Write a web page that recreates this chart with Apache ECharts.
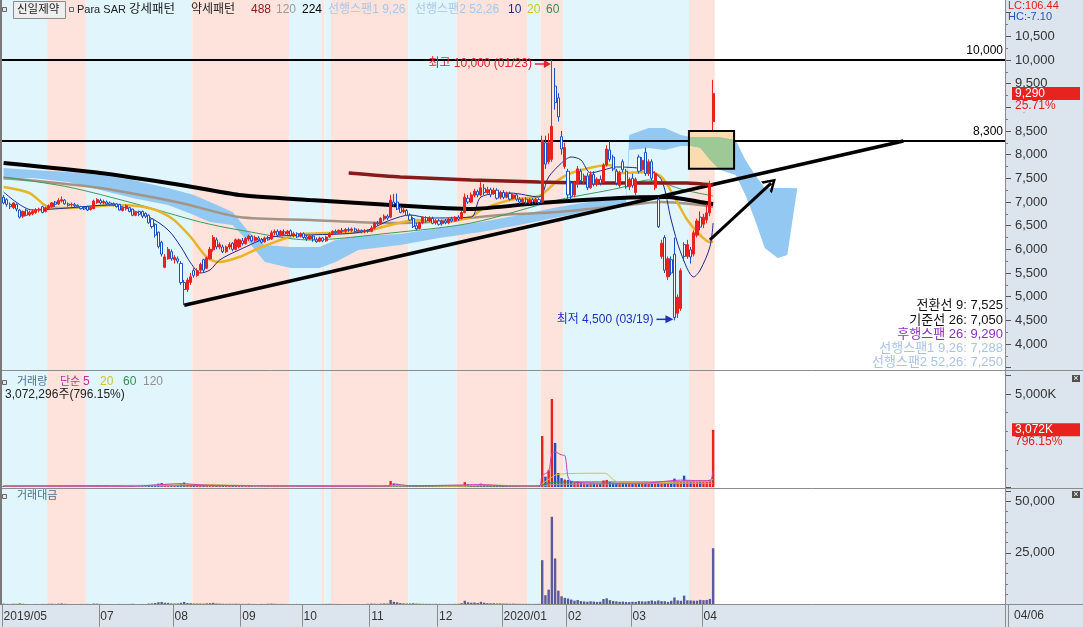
<!DOCTYPE html>
<html><head><meta charset="utf-8">
<script src="https://cdn.jsdelivr.net/npm/echarts/dist/echarts.min.js"></script>
<style>html,body{margin:0;padding:0;background:#fff;overflow:hidden}#c{width:1083px;height:627px}</style>
</head><body><div id="c"></div>
<script>
// ---------------- DATA ----------------
const categoryCount = 311;
const monthStarts = [0, 30, 53, 74, 93, 114, 135, 155, 175, 195, 217];
const monthLabels = ['2019/05', '07', '08', '09', '10', '11', '12', '2020/01', '02', '03', '04'];
const lastDateLabel = '04/06';

const opens = [7100,7050,6950,6880,6950,6830,6700,6830,6730,6750, 6780,6830,6900,6800,6860,6900,7000,6960,7020,7040,
 6960,6940,6950,6930,6900,6880,6900,6840,6860,6990, 7030,6980,7000,6980,6970,6960,6950,6820,6860,6880,
 6850,6720,6800,6800,6760,6720,6640,6530,6360,6150, 5620,5800,5950,5780,5800,5700,5300,5150,5300,5550,
 5450,5560,5780,5600,5800,5990,6200,6050,6050,5950, 6050,6130,6000,6050,6180,6120,6220,6270,6190,6240,
 6200,6160,6240,6220,6350,6380,6300,6370,6330,6390, 6300,6330,6270,6330,6260,6220,6280,6200,6170,6240,
 6180,6260,6330,6380,6350,6400,6380,6420,6400,6430, 6380,6400,6370,6400,6380,6450,6560,6540,6640,6700,
 6680,7000,7000,6880,6800,6820,6720,6650,6500,6440, 6560,6670,6600,6650,6560,6600,6540,6600,6560,6640,
 6600,6680,6650,6780,7080,7000,7140,7220,7150,7290, 7200,7260,7180,7250,7100,7200,7100,7180,7080,7150,
 7060,7000,7060,6990,7050,7000,7050,7000,8250,7850, 7900,9450,9200,8380,7750,7650,7400,7150,7380,7650,
 7450,7550,7300,7580,7380,7480,7420,7780,8100,7950, 7650,7350,7850,7650,7320,7500,7200,7950,7680,8050,
 7600,7850,7300,7050,5850,6250,5420,5780,5900,4650, 4750,6100,5850,5990,5900,6300,6680,6530,6620,6770,8700];
const closes = [6980,6950,6900,6980,6850,6680,6800,6720,6780,6800, 6830,6850,6780,6880,6920,6980,6950,7030,7050,6960,
 6930,6950,6920,6900,6860,6850,6830,6880,7020,7050, 6980,7010,6960,6950,6940,6900,6830,6880,6920,6800,
 6720,6780,6740,6700,6700,6560,6480,6300,6060,5900, 5840,6000,5800,5830,5750,5300,5150,5350,5420,5450,
 5550,5680,5560,5820,6000,6250,6050,6100,5950,6050, 6100,6000,6200,6200,6120,6230,6280,6180,6250,6200,
 6150,6240,6200,6350,6380,6300,6380,6320,6380,6300, 6330,6260,6330,6250,6220,6280,6200,6160,6240,6180,
 6260,6330,6380,6350,6400,6380,6420,6400,6430,6380, 6400,6370,6400,6380,6450,6560,6540,6650,6700,6660,
 7040,6950,6850,6780,6830,6720,6620,6480,6430,6560, 6680,6600,6660,6550,6600,6530,6600,6560,6640,6600,
 6680,6640,6780,7100,7000,7150,7230,7150,7300,7200, 7260,7150,7250,7080,7200,7100,7180,7060,7150,7060,
 7000,7060,6980,7050,7000,7060,6990,8300,7800,8250, 8600,9100,8800,8120,8150,7150,7120,7400,7700,7450,
 7550,7300,7580,7380,7480,7400,7780,8120,7900,7700, 7400,7620,7680,7320,7480,7350,7480,7650,7880,7600,
 7850,7500,7600,6480,6130,5560,5800,5500,4560,4990, 5550,5850,6100,5840,6350,6600,6470,6680,6770,7390,9290];
const lows = [6950,6900,6850,6850,6800,6650,6660,6700,6700,6720, 6750,6780,6760,6780,6830,6880,6900,6940,6990,6940,
 6900,6900,6890,6870,6840,6830,6810,6820,6850,6960, 6950,6950,6940,6920,6910,6880,6820,6800,6820,6780,
 6700,6700,6700,6660,6660,6540,6440,6250,6020,5850, 5600,5780,5760,5700,5700,5250,4820,5100,5250,5400,
 5420,5500,5520,5580,5780,5950,6000,6000,5920,5920, 6000,5960,5980,6020,6080,6100,6180,6150,6160,6170,
 6120,6140,6180,6200,6300,6280,6280,6290,6300,6270, 6250,6240,6250,6220,6180,6200,6160,6140,6150,6150,
 6160,6240,6300,6320,6330,6340,6350,6370,6370,6350, 6360,6340,6340,6350,6360,6420,6500,6520,6600,6620,
 6660,6900,6830,6760,6760,6700,6600,6450,6400,6420, 6530,6560,6570,6530,6520,6500,6500,6530,6530,6570,
 6580,6600,6630,6760,6960,6980,7100,7100,7120,7150, 7150,7100,7150,7050,7060,7060,7080,7030,7050,7020,
 6960,6980,6950,6960,6960,6970,6950,6980,7700,7800, 7850,8950,8700,8000,7700,7050,7050,7100,7300,7400,
 7380,7250,7280,7330,7330,7350,7400,7750,7850,7650, 7350,7300,7620,7280,7250,7300,7150,7600,7650,7550,
 7550,7450,7250,6450,5800,5500,5350,5450,4500,4550, 4700,5750,5800,5700,5850,6250,6400,6450,6550,6700,8300];
const highs = [7150,7080,6990,7000,6970,6850,6820,6860,6820,6850, 6870,6880,6920,6900,6950,7000,7020,7080,7120,7060,
 6990,6990,6980,6950,6920,6900,6920,6900,7050,7080, 7070,7050,7030,7010,6990,6980,6960,6900,6950,6900,
 6860,6800,6820,6820,6780,6740,6660,6550,6380,6180, 5900,6050,6000,5880,5850,5750,5350,5400,5500,5600,
 5600,5720,5800,5850,6050,6300,6250,6150,6100,6080, 6150,6150,6230,6230,6240,6260,6310,6300,6290,6280,
 6240,6270,6280,6400,6420,6420,6410,6420,6410,6420, 6370,6360,6360,6360,6300,6300,6300,6250,6270,6260,
 6290,6360,6400,6420,6420,6450,6450,6460,6460,6460, 6440,6420,6430,6420,6500,6580,6600,6680,6740,6740,
 7150,7170,7180,6920,6880,6850,6760,6680,6560,6580, 6700,6700,6700,6690,6640,6640,6630,6640,6670,6690,
 6700,6720,6820,7180,7150,7200,7280,7260,7420,7380, 7320,7300,7300,7290,7240,7250,7220,7220,7180,7180,
 7100,7090,7100,7080,7080,7090,7080,8400,8400,8450, 10000,9830,9300,8500,8250,7700,7450,7450,7760,7700,
 7600,7620,7650,7650,7520,7560,7820,8200,8280,8000, 7700,7660,7900,7700,7520,7600,7520,8000,7950,8150,
 7900,7900,7650,7100,6200,6300,5850,5850,6250,5050, 5600,6150,6200,6050,6400,6650,6800,6750,6950,7450,9580];

// volume (thousand shares)
const volumes = [60,45,40,55,50,80,55,40,35,38,42,36,45,40,50,55,42,60,70,48,40,38,35,33,40,38,45,36,65,58,42,38,35,33,30,36,45,38,40,42,50,35,33,40,38,
 70,85,120,180,210,150,130,90,80,95,160,240,140,120,90,85,80,75,95,110,130,80,70,60,55,60,58,65,
 55,50,48,60,45,42,40,50,45,60,70,55,50,48,45,42,40,38,45,42,40,38,36,35,40,38,45,50,55,48,45,42,40,38,36,40,38,36,35,40,55,70,60,50,65,80,70,
 320,180,150,100,80,70,75,90,70,60,55,50,48,45,50,45,42,40,45,42,48,55,90,260,150,120,130,100,180,120,90,80,85,70,75,65,60,55,60,50,48,45,50,42,40,45,50,
 2740,560,900,4730,2370,750,480,400,380,330,250,300,220,200,180,210,190,170,180,350,380,260,220,200,180,190,170,160,180,170,220,200,190,230,260,220,280,240,250,230,260,450,300,280,610,350,330,300,280,350,320,330,386,3072];
// trading value (million won)
const tradeValues = [420,310,280,380,345,540,375,270,235,258,287,247,305,275,345,382,292,420,492,334,278,264,243,229,275,262,310,247,455,406,293,265,243,229,208,249,308,262,274,286,340,238,224,270,258,
 465,555,760,1095,1240,875,780,525,465,548,850,1250,740,650,490,470,455,425,550,660,810,485,425,357,333,363,350,403,
 340,310,300,375,280,262,248,310,280,380,445,350,320,306,285,268,253,240,283,264,250,238,225,218,250,238,283,318,350,306,288,268,256,243,230,256,243,230,224,256,355,460,395,332,432,535,470,
 2200,1280,1050,690,550,475,500,590,455,390,362,335,320,300,330,298,276,262,296,277,318,365,610,1820,1060,850,930,720,1300,870,650,580,615,505,540,468,430,395,430,358,340,320,353,296,281,316,350,
 21500,4500,7200,42500,22300,6700,4000,3200,2900,2400,1850,2200,1650,1480,1330,1560,1410,1260,1330,2650,3000,2100,1720,1520,1320,1410,1260,1180,1330,1260,1650,1520,1430,1680,1950,1600,1950,1650,1600,1250,1800,3400,2000,1800,4300,2050,1980,1850,1850,2250,2100,2200,2700,27300];

// price moving averages, read at sample days: [dayIndex, value]
const ma10 = [[0,7212],[9,6831],[20,6874],[33,6937],[45,6683],[51,6409],[55,6050],[58,5712],[61,5500],[64,5564],[67,5775],[73,5986],[83,6261],[95,6303],[111,6367],[120,6620],[126,6726],[132,6662],[145,6683],[148,7106],[157,7190],[166,7106],[169,7528],[173,7824],[176,7951],[179,7888],[182,7613],[186,7676],[190,7740],[200,7676],[204,7465],[207,6620],[210,5923],[214,5416],[216,5564],[219,6050],[220,6557]];
const ma20 = [[0,7317],[8,7190],[14,6895],[20,6874],[36,6937],[45,6874],[52,6662],[58,6261],[63,5838],[67,5733],[73,5838],[80,6050],[91,6303],[101,6345],[111,6367],[120,6514],[128,6620],[136,6578],[145,6683],[148,6831],[157,7043],[166,7127],[172,7465],[176,7613],[183,7740],[188,7782],[191,7613],[200,7634],[204,7528],[208,7106],[212,6620],[216,6303],[219,6155],[220,6160]];
const ma60 = [[0,7528],[20,7317],[40,6979],[61,6578],[73,6409],[95,6198],[120,6345],[145,6557],[172,7043],[191,7296],[200,7465],[211,7254],[220,7127]];
const ma120 = [[0,7507],[30,7296],[55,6979],[73,6683],[95,6620],[120,6557],[132,6578],[154,6726],[172,6789],[191,6916],[204,7000],[216,6937],[220,6895]];
const ma224 = [[0,7824],[30,7613],[55,7359],[73,7148],[95,7043],[120,6937],[145,6852],[166,6979],[191,7085],[206,7106],[216,7000],[220,6958]];
const ma488 = [[107,7613],[123,7528],[145,7465],[166,7423],[185,7402],[212,7402],[220,7359]];

// ichimoku cloud envelope (leading spans), read at sample days
const cloudIdx = [0,9,20,30,40,51,59,64,71,76,81,89,98,103,110,123,135,148,160,172,185,193,194,200,205,210,213,216,219,222,227,230,233,236,240,243,246];
const cloudTop = [7718,7676,7634,7571,7465,7296,7148,7000,6789,6367,6092,6050,6050,6198,6282,6324,6451,6578,6726,6895,7043,7106,8416,8563,8563,8416,8373,8373,8373,8373,8310,7888,7571,7296,7296,7296,7288];
const cloudBot = [7465,7507,7423,7254,7085,6937,6726,6578,6514,6155,5733,5606,5606,5733,5986,6092,6240,6367,6514,6683,6831,6979,8099,8141,8099,8183,8183,8141,7888,7680,7571,7148,6620,6029,5817,5881,7250];

// volume moving averages [dayIndex, thousand shares]
const vma5 = [[0,50],[40,40],[47,110],[55,180],[62,110],[70,80],[100,40],[119,55],[121,160],[126,70],[143,110],[148,130],[155,70],[166,50],[167,600],[169,850],[170,1800],[171,1880],[173,1720],[174,1700],[175,540],[176,300],[180,230],[190,200],[200,220],[210,370],[216,340],[219,340],[220,850]];
const vma20 = [[0,55],[30,45],[50,100],[60,130],[75,80],[100,42],[120,60],[130,75],[141,45],[150,110],[160,60],[166,55],[167,190],[170,520],[171,640],[175,720],[186,740],[187,720],[189,400],[191,260],[200,230],[210,270],[219,300],[220,440]];
const vma60 = [[0,60],[60,90],[90,70],[120,60],[166,60],[167,100],[171,260],[180,275],[200,270],[220,330]];
const vma120 = [[0,60],[166,60],[171,140],[220,200]];

// Para SAR pattern bands [startDay, endDay(excl), 0=strong(cyan) 1=weak(pink)]
const bandRuns = [[0,14,0],[14,26,1],[26,59,0],[59,89,1],[89,99,0],[99,100,1],[100,102,0],[102,126,1],[126,141,0],[141,163,1],[163,167,0],[167,174,1],[174,213,0],[213,221,1]];

// drawn annotations
const highLine = 10000, resistLine = 8300;
const trendStart = [56, 4820], trendEnd = [279, 8290];
const arrowStart = [219, 6200], arrowEnd = [238, 7400];
const boxRange = [213, 227, 8500, 7700];
const highPoint = [170, 10000], lowPoint = [208, 4500];

// ---------------- CHART ----------------
const FONT = "'Liberation Sans','Noto Sans CJK KR',sans-serif";
const cats = Array.from({length: categoryCount}, (_, i) => String(i));
const candleData = opens.map((o, i) => [o, closes[i], lows[i], highs[i]]);
const UP = '#e8231f', DN = '#1d4fc4';
const volData = volumes.map((v, i) => ({value: v, itemStyle: {color: closes[i] >= opens[i] ? UP : DN}}));
const CLOUD = '#93c8f2';

const chart = echarts.init(document.getElementById('c'), null, {renderer: 'canvas'});

function xAx(g, show) {
  const a = {gridIndex: g, type: 'category', data: cats, boundaryGap: true, show: !!show,
    axisLine: {show: false}, splitLine: {show: false}};
  if (show) {
    a.axisTick = {show: true, interval: (idx) => monthStarts.indexOf(idx) >= 0, length: 22,
      lineStyle: {color: '#8c8c8c'}};
    a.axisLabel = {show: true, interval: (idx) => monthStarts.indexOf(idx) >= 0,
      formatter: (v) => { const k = monthStarts.indexOf(Number(v)); return k >= 0 ? monthLabels[k] : ''; },
      align: 'left', margin: 6, color: '#333', fontSize: 12, fontFamily: FONT};
  }
  return a;
}
function yAx(g, min, max, interval, fmt, minorSplit) {
  return {gridIndex: g, type: 'value', position: 'right', min, max, interval, scale: false,
    axisLine: {show: false}, splitLine: {show: false},
    axisTick: {show: true, length: 6, lineStyle: {color: '#555'}},
    minorTick: {show: true, splitNumber: minorSplit, length: 3, lineStyle: {color: '#777'}},
    axisLabel: {formatter: fmt, color: '#333', fontSize: 13, fontFamily: FONT, margin: 10}};
}
const fmtNum = (v) => Number(v).toLocaleString('en-US');

function lineS(data, color, width, z, smooth, xi, yi) {
  return {type: 'line', data, xAxisIndex: xi || 0, yAxisIndex: yi || 0, showSymbol: false, symbol: 'none',
    smooth: smooth, lineStyle: {color, width}, z, silent: true, animation: false};
}
function interpY(pts, x) {
  if (x <= pts[0][0]) return pts[0][1];
  for (let k = 1; k < pts.length; k++) {
    if (x <= pts[k][0]) {
      const a = pts[k - 1], b = pts[k];
      return a[1] + (b[1] - a[1]) * (x - a[0]) / ((b[0] - a[0]) || 1);
    }
  }
  return pts[pts.length - 1][1];
}

const option = {
  animation: false,
  backgroundColor: '#ffffff',
  grid: [
    {left: 2, right: 78, top: 12.667, height: 355},
    {left: 2, right: 78, top: 375.4, height: 111.6},
    {left: 2, right: 78, top: 491, height: 113.5},
    {left: 2, right: 78, top: 0, height: 604.5}
  ],
  xAxis: [xAx(0), xAx(1), xAx(2, true), xAx(3)],
  yAxis: [
    yAx(0, 3500, 11000, 500, (v) => (v >= 4000 && v <= 10500) ? fmtNum(v) : '', 2),
    yAx(1, 0, 6000, 5000, (v) => v === 5000 ? '5,000K' : '', 5),
    yAx(2, 0, 55000, 25000, (v) => (v === 25000 || v === 50000) ? fmtNum(v) : '', 5),
    {gridIndex: 3, type: 'value', min: 0, max: 1, show: false}
  ],
  series: [
    { // Para SAR pattern bands
      type: 'custom', xAxisIndex: 3, yAxisIndex: 3, z: 0, silent: true, data: bandRuns,
      encode: {x: [0, 1]},
      renderItem: (params, api) => {
        const s = api.value(0), e = api.value(1), t = api.value(2);
        const w = api.size([1, 0])[0];
        const x0 = api.coord([s, 0])[0] - w / 2, x1 = api.coord([e - 1, 0])[0] + w / 2;
        const cs = params.coordSys;
        return {type: 'rect', shape: {x: x0, y: cs.y, width: x1 - x0, height: cs.height},
          style: {fill: t ? '#fde3dc' : '#e1f6fc'}};
      }
    },
    { // ichimoku cloud
      type: 'custom', xAxisIndex: 0, yAxisIndex: 0, z: 1, silent: true, data: [[0, 7000]],
      renderItem: (params, api) => {
        const pts = [];
        for (let k = 0; k < cloudIdx.length; k++) pts.push(api.coord([cloudIdx[k], cloudTop[k]]));
        for (let k = cloudIdx.length - 1; k >= 0; k--) pts.push(api.coord([cloudIdx[k], cloudBot[k]]));
        return {type: 'polygon', shape: {points: pts}, style: {fill: CLOUD}};
      }
    },
    lineS(ma120, '#a39586', 2.5, 3, 0.3),
    lineS(ma60, '#3a9a5c', 1, 3, 0.3),
    lineS(ma20, '#e8b428', 2.5, 4, 0.3),
    lineS(ma10, '#1c2a8c', 1, 4, 0.3),
    lineS(ma224, '#000000', 4, 5, 0.2),
    lineS(ma488, '#861b1b', 3.5, 5, 0.2),
    {
      type: 'candlestick', xAxisIndex: 0, yAxisIndex: 0, data: candleData, barWidth: 2.6, z: 6, silent: true,
      itemStyle: {color: UP, color0: '#ffffff', borderColor: UP, borderColor0: DN, borderWidth: 1},
      markLine: {
        silent: true, animation: false, symbol: 'none',
        label: {show: false},
        data: [
          {yAxis: highLine, lineStyle: {color: '#000', width: 2, type: 'solid'},
            label: {show: true, position: 'insideEndTop', formatter: '10,000', color: '#000', fontSize: 12, fontFamily: FONT, distance: [2, 3]}},
          {yAxis: resistLine, lineStyle: {color: '#000', width: 2, type: 'solid'},
            label: {show: true, position: 'insideEndTop', formatter: '8,300', color: '#000', fontSize: 12, fontFamily: FONT, distance: [2, 3]}},
          [{coord: trendStart, lineStyle: {color: '#000', width: 3.5, type: 'solid'}}, {coord: trendEnd}],
          [{coord: arrowStart, symbol: 'none', lineStyle: {color: '#000', width: 3, type: 'solid'}},
           {coord: arrowEnd, symbol: 'path://M0,10 L5,0 L10,10 L8.2,10 L5,3.6 L1.8,10 Z', symbolSize: [16, 13]}]
        ]
      }
    },
    { // marker box (translucent over cloud)
      type: 'custom', xAxisIndex: 0, yAxisIndex: 0, z: 7, silent: true, data: [boxRange],
      encode: {x: [0, 1], y: [2, 3]},
      renderItem: (params, api) => {
        const w = api.size([1, 0])[0];
        const p0 = api.coord([api.value(0), api.value(2)]);
        const p1 = api.coord([api.value(1) - 1, api.value(3)]);
        const x0 = p0[0] - w / 2, x1 = p1[0] + w / 2, yT = p0[1], yB = p1[1];
        const topPx = cloudIdx.map((c, k) => api.coord([c, cloudTop[k]]));
        const botPx = cloudIdx.map((c, k) => api.coord([c, cloudBot[k]]));
        const up = [], dn = [];
        for (let x = x0; x <= x1 + 0.01; x += 1) {
          const t = Math.min(Math.max(interpY(topPx, x), yT), yB);
          const b = Math.min(Math.max(interpY(botPx, x), yT), yB);
          up.push([x, t]); dn.unshift([x, b]);
        }
        return {type: 'group', children: [
          {type: 'rect', shape: {x: x0, y: yT, width: x1 - x0, height: yB - yT}, style: {fill: '#fbdcae'}},
          {type: 'polygon', shape: {points: up.concat(dn)}, style: {fill: '#9ec896'}},
          {type: 'rect', shape: {x: x0, y: yT, width: x1 - x0, height: yB - yT},
            style: {fill: 'none', stroke: '#000', lineWidth: 2}}
        ]};
      }
    },
    {type: 'bar', xAxisIndex: 1, yAxisIndex: 1, data: volData, barWidth: 2.4, z: 4, silent: true},
    lineS(vma120, '#a0a0a0', 1, 5, 0.3, 1, 1),
    lineS(vma60, '#2f8f4f', 1, 5, 0.3, 1, 1),
    lineS(vma20, '#d9c23a', 1, 5, 0.3, 1, 1),
    lineS(vma5, '#cc3fb6', 1, 5, 0.3, 1, 1),
    {type: 'bar', xAxisIndex: 2, yAxisIndex: 2, data: tradeValues, barWidth: 2.4, z: 4, silent: true,
      itemStyle: {color: '#5b5a9e'}}
  ]
};
chart.setOption(option);

// ---------- overlay texts / decorations ----------
const px = (i, v) => chart.convertToPixel({gridIndex: 0}, [i, v]);
const lastY = chart.convertToPixel({yAxisIndex: 0}, closes[closes.length - 1]);
const volY = chart.convertToPixel({yAxisIndex: 1}, volumes[volumes.length - 1]);
const hp = px(highPoint[0], highPoint[1]);
const lp = px(lowPoint[0], lowPoint[1]);

function T(x, y, text, color, size, align, extra) {
  return Object.assign({type: 'text', x, y, z: 100, silent: true,
    style: {text, fill: color, font: (size || 13) + 'px ' + FONT, textAlign: align || 'left', textVerticalAlign: 'middle'}}, extra || {});
}
function R(x, y, w, h, fill, stroke, z) {
  return {type: 'rect', z: z === undefined ? 90 : z, silent: true, shape: {x, y, width: w, height: h},
    style: {fill, stroke: stroke || null, lineWidth: 1}};
}
function L(x1, y1, x2, y2, color, w, z) {
  return {type: 'line', z: z === undefined ? 95 : z, silent: true, shape: {x1, y1, x2, y2},
    style: {stroke: color, lineWidth: w || 1}};
}
const AX = '#dce4ee';
const g = [
  R(1005, 0, 78, 627, AX, null, -10),
  R(0, 605, 1005, 22, AX, null, -10),
  L(0, 370.5, 1083, 370.5, '#8c8c8c', 1),
  L(0, 488.5, 1083, 488.5, '#8c8c8c', 1),
  L(0, 604.5, 1083, 604.5, '#8c8c8c', 1),
  L(1005.5, 0, 1005.5, 627, '#8c8c8c', 1),
  L(1, 0, 1, 605, '#7a7a7a', 2),
  L(1008.5, 605, 1008.5, 627, '#8c8c8c', 1),
  T(1014, 616, lastDateLabel, '#333', 12),
  // top legend
  R(2.5, 7.5, 4, 4, '#e8e8e8', '#666'),
  R(13.5, 1.5, 52, 17, '#eeeeee', '#8a8a8a'),
  T(17, 10, '신일제약', '#222', 11.5),
  R(69.5, 7.5, 4, 4, '#e8e8e8', '#666'),
  T(77, 10, 'Para SAR', '#222', 11),
  T(129, 10, '강세패턴', '#222', 12.5),
  T(191, 10, '약세패턴', '#222', 12),
  T(251, 10, '488', '#8b1a1a', 12),
  T(276, 10, '120', '#a09a90', 12),
  T(302, 10, '224', '#000', 12),
  T(328, 10, '선행스팬1 9,26', '#aac6e6', 12),
  T(415, 10, '선행스팬2 52,26', '#aac6e6', 12),
  T(508, 10, '10', '#1c2a8c', 12),
  T(527, 10, '20', '#d8c020', 12),
  T(546, 10, '60', '#2f8f4f', 12),
  // LC / HC
  T(1008, 6, 'LC:106.44', '#e02020', 11),
  T(1008, 17, 'HC:-7.10', '#2a50c0', 11),
  // last price tag
  R(1012, lastY - 6.5, 68, 13, '#e8221c', null, 95),
  T(1015, lastY, '9,290', '#ffffff', 12),
  R(1012, lastY + 6.5, 68, 12, AX, null, 94),
  T(1015, lastY + 12, '25.71%', '#e02020', 12),
  // volume panel
  R(2.5, 380.5, 4, 4, '#e8e8e8', '#666'),
  T(17, 382, '거래량', '#4a6f8f', 11),
  T(60, 382, '단순', '#c0309a', 11),
  T(83, 382, '5', '#c0309a', 12),
  T(100, 382, '20', '#cfc040', 12),
  T(123, 382, '60', '#2f8f4f', 12),
  T(143, 382, '120', '#909090', 12),
  T(5, 395, '3,072,296주(796.15%)', '#222', 12),
  R(1012, volY - 6.5, 68, 13, '#e8221c', null, 95),
  T(1015, volY, '3,072K', '#ffffff', 12),
  T(1015, volY + 12, '796.15%', '#e02020', 12),
  R(1072, 375, 8, 7, '#505050', null, 95),
  T(1076, 378.5, '×', '#ffffff', 9, 'center'),
  // trading value panel
  R(2.5, 494.5, 4, 4, '#e8e8e8', '#666'),
  T(17, 496, '거래대금', '#4a6f8f', 11),
  R(1072, 491, 8, 7, '#505050', null, 95),
  T(1076, 494.5, '×', '#ffffff', 9, 'center'),
  // ichimoku info
  T(1003, 305, '전환선 9: 7,525', '#111', 13, 'right'),
  T(1003, 320, '기준선 26: 7,050', '#111', 13, 'right'),
  T(1003, 334, '후행스팬 26: 9,290', '#8a2fc0', 13, 'right'),
  T(1003, 348, '선행스팬1 9,26: 7,288', '#a9c3e3', 13, 'right'),
  T(1003, 362, '선행스팬2 52,26: 7,250', '#a9c3e3', 13, 'right'),
  // high / low annotations
  T(hp[0] - 20, hp[1] + 4, '최고 10,000 (01/23)', '#e0262a', 12, 'right'),
  L(hp[0] - 17, hp[1] + 4, hp[0] - 7, hp[1] + 4, '#e0262a', 1.5),
  {type: 'polygon', z: 96, silent: true, shape: {points: [[hp[0] - 1, hp[1] + 4], [hp[0] - 8, hp[1]], [hp[0] - 8, hp[1] + 8]]}, style: {fill: '#e0262a'}},
  T(lp[0] - 21, lp[1] - 1, '최저 4,500 (03/19)', '#2030c0', 12, 'right'),
  L(lp[0] - 18, lp[1] - 1, lp[0] - 8, lp[1] - 1, '#2030c0', 1.5),
  {type: 'polygon', z: 96, silent: true, shape: {points: [[lp[0] - 1, lp[1] - 1], [lp[0] - 9, lp[1] - 5], [lp[0] - 9, lp[1] + 3]]}, style: {fill: '#2030c0'}}
];
chart.setOption({graphic: {elements: g}});
</script>
</body></html>
